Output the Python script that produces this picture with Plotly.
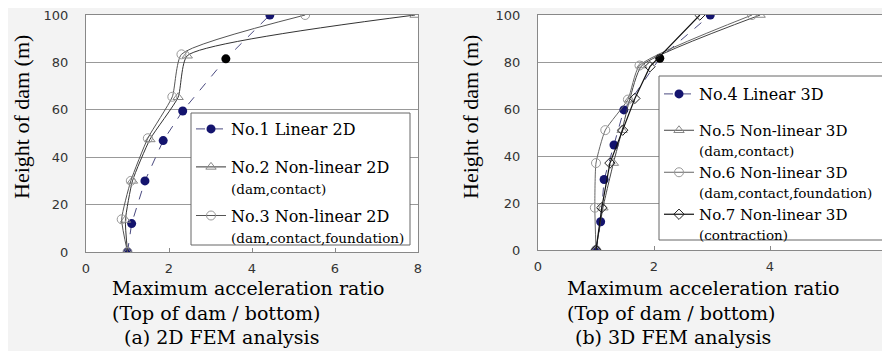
import plotly.graph_objects as go

# ---- data: (a) 2D FEM analysis ----
no1_x = [1.0, 1.1, 1.42, 1.86, 2.33, 3.37, 4.43]
no1_y = [0, 12, 30, 47, 59.5, 81.5, 100]
no2_x = [1.0, 0.95, 1.12, 1.54, 2.22, 2.44, 7.93]
no2_y = [0, 13.5, 30, 47.5, 65.3, 82.8, 100]
no3_x = [1.0, 0.86, 1.08, 1.49, 2.08, 2.30, 5.28]
no3_y = [0, 13.8, 30, 48, 65.5, 83.4, 100]

# ---- data: (b) 3D FEM analysis ----
no4_x = [1.0, 1.08, 1.14, 1.31, 1.48, 2.10, 2.97]
no4_y = [0, 12, 30, 44.7, 59.6, 81.6, 100]
no5_x = [1.0, 1.12, 1.30, 1.45, 1.58, 1.79, 3.83]
no5_y = [0, 18, 37, 51, 64, 78.5, 100]
no6_x = [1.0, 0.98, 1.0, 1.16, 1.55, 1.75, 3.69]
no6_y = [0, 18, 37, 51, 64, 78.5, 100]
no7_x = [1.0, 1.10, 1.24, 1.46, 1.67, 1.93, 2.79]
no7_y = [0, 18, 37, 51, 64.5, 78, 100]

x_ticks_a = [0, 2, 4, 6, 8]
x_ticks_b = [0, 2, 4, 6]
y_ticks = [0, 20, 40, 60, 80, 100]

SUB = "<span style='font-size:13.5px'>%s</span>"
names_a = ["No.1 Linear 2D",
           "No.2 Non-linear 2D<br>" + SUB % "(dam,contact)",
           "No.3 Non-linear 2D<br>" + SUB % "(dam,contact,foundation)"]
names_b = ["No.4 Linear 3D",
           "No.5 Non-linear 3D<br>" + SUB % "(dam,contact)",
           "No.6 Non-linear 3D<br>" + SUB % "(dam,contact,foundation)",
           "No.7 Non-linear 3D<br>" + SUB % "(contraction)"]

NAVY = "#14146e"
SERIF = "DejaVu Serif"
TICKFONT = dict(family="DejaVu Sans", size=13, color="#333333")

def lin_colors(n, black_idx):
    c = [NAVY] * n
    c[black_idx] = "black"
    return c

fig = go.Figure()

# Left panel
fig.add_trace(go.Scatter(x=no1_x, y=no1_y, name=names_a[0], mode="lines+markers",
                         line=dict(color="#4a4a80", width=1, dash="dash"),
                         marker=dict(symbol="circle", size=9, color=lin_colors(len(no1_x), 5)),
                         xaxis="x", yaxis="y", legend="legend", legendgroup="a1"))
fig.add_trace(go.Scatter(x=no2_x, y=no2_y, name=names_a[1], mode="lines+markers",
                         line=dict(color="#333333", width=1, shape="spline", smoothing=0.5),
                         marker=dict(symbol="triangle-up-open", size=9, color="#888888"),
                         xaxis="x", yaxis="y", legend="legend4", legendgroup="a2"))
fig.add_trace(go.Scatter(x=no3_x, y=no3_y, name=names_a[2], mode="lines+markers",
                         line=dict(color="#555555", width=1, shape="spline", smoothing=0.5),
                         marker=dict(symbol="circle-open", size=9, color="#999999"),
                         xaxis="x", yaxis="y", legend="legend4", legendgroup="a3"))

# Right panel
fig.add_trace(go.Scatter(x=no4_x, y=no4_y, name=names_b[0], mode="lines+markers",
                         line=dict(color="#4a4a80", width=1, dash="dash"),
                         marker=dict(symbol="circle", size=9, color=lin_colors(len(no4_x), 5)),
                         xaxis="x2", yaxis="y2", legend="legend2", legendgroup="b1"))
fig.add_trace(go.Scatter(x=no5_x, y=no5_y, name=names_b[1], mode="lines+markers",
                         line=dict(color="#444444", width=1, shape="spline", smoothing=0.5),
                         marker=dict(symbol="triangle-up-open", size=9, color="#888888"),
                         xaxis="x2", yaxis="y2", legend="legend3", legendgroup="b2"))
fig.add_trace(go.Scatter(x=no6_x, y=no6_y, name=names_b[2], mode="lines+markers",
                         line=dict(color="#666666", width=1, shape="spline", smoothing=0.5),
                         marker=dict(symbol="circle-open", size=9, color="#999999"),
                         xaxis="x2", yaxis="y2", legend="legend3", legendgroup="b3"))
fig.add_trace(go.Scatter(x=no7_x, y=no7_y, name=names_b[3], mode="lines+markers",
                         line=dict(color="#111111", width=1.2),
                         marker=dict(symbol="diamond-open", size=8, color="#222222"),
                         xaxis="x2", yaxis="y2", legend="legend3", legendgroup="b4"))

# page has an 8px body margin: figure sits at (8, 8)
OFF = 8
W, H = 882, 343
def px(v):
    return (v - OFF) / W
def py(v):
    return 1 - (v - OFF) / H

axis_common = dict(showline=True, linecolor="#888888", linewidth=1, mirror=True,
                   tickfont=TICKFONT, zeroline=False, automargin=False,
                   ticklabeloverflow="allow")

def leg(x, y, size, gap=0):
    return dict(x=px(x), y=py(y), xanchor="left", yanchor="top",
                bgcolor="rgba(0,0,0,0)", borderwidth=0,
                font=dict(family=SERIF, size=size, color="black"),
                tracegroupgap=gap, itemwidth=30, valign="top")

def box(x0, x1, y0, y1):
    return dict(type="rect", xref="paper", yref="paper",
                x0=px(x0), x1=px(x1), y0=py(y1), y1=py(y0),
                fillcolor="white", line=dict(color="#666666", width=1), layer="above")

fig.update_layout(
    template="none",
    width=W, height=H, margin=dict(l=0, r=0, t=0, b=0, pad=0),
    paper_bgcolor="#f3f3f3", plot_bgcolor="white",
    xaxis=dict(domain=[px(86), px(418)], range=[0, 8], tickvals=x_ticks_a,
               showgrid=False, ticks="inside", ticklen=4, tickcolor="#888888",
               ticklabelstandoff=4, anchor="y", **axis_common),
    yaxis=dict(domain=[py(252), py(15)], range=[0, 100], tickvals=y_ticks,
               showgrid=True, gridcolor="#999999", gridwidth=1,
               ticks="", ticklabelstandoff=14, anchor="x", **axis_common),
    xaxis2=dict(domain=[px(538), px(886)], range=[0, 6], tickvals=x_ticks_b,
                showgrid=False, ticks="inside", ticklen=4, tickcolor="#888888",
                ticklabelstandoff=4, anchor="y2", **axis_common),
    yaxis2=dict(domain=[py(250), py(15)], range=[0, 100], tickvals=y_ticks,
                showgrid=True, gridcolor="#999999", gridwidth=1,
                ticks="", ticklabelstandoff=14, anchor="x2", **axis_common),
    legend=leg(191, 112, 16),
    legend4=leg(191, 150, 16, gap=4),
    legend2=leg(659, 77, 16),
    legend3=leg(659, 114, 15),
    showlegend=True,
    hovermode=False,
    shapes=[box(191, 410, 113, 245), box(659, 883, 76, 240)],
)

ann_font = dict(family=SERIF, size=19, color="black")
ytitle_font = dict(family="Liberation Serif", size=22, color="black")
annotations = [
    dict(text="Height of dam (m)", x=px(21), y=py(117), textangle=-90,
         xanchor="center", yanchor="middle", font=ytitle_font),
    dict(text="Height of dam (m)", x=px(470), y=py(117), textangle=-90,
         xanchor="center", yanchor="middle", font=ytitle_font),
    dict(text="Maximum acceleration ratio", x=px(110), y=py(288), xanchor="left", yanchor="middle", font=ann_font),
    dict(text="(Top of dam / bottom)", x=px(110), y=py(313), xanchor="left", yanchor="middle", font=ann_font),
    dict(text="(a) 2D FEM analysis", x=px(122), y=py(337), xanchor="left", yanchor="middle", font=ann_font),
    dict(text="Maximum acceleration ratio", x=px(565), y=py(288), xanchor="left", yanchor="middle", font=ann_font),
    dict(text="(Top of dam / bottom)", x=px(565), y=py(313), xanchor="left", yanchor="middle", font=ann_font),
    dict(text="(b) 3D FEM analysis", x=px(573), y=py(337), xanchor="left", yanchor="middle", font=ann_font),
]
for a in annotations:
    a.update(xref="paper", yref="paper", showarrow=False)
fig.update_layout(annotations=annotations)

fig.write_html("out.html")
